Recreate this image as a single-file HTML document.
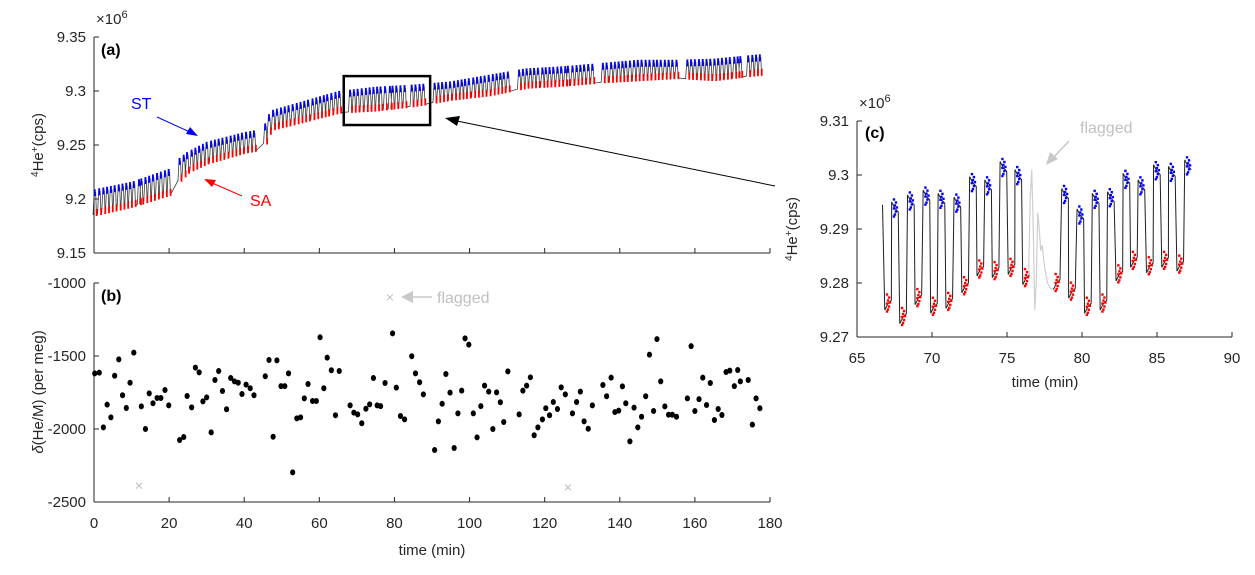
<!DOCTYPE html>
<html><head><meta charset="utf-8"><style>
html,body{margin:0;padding:0;background:#fff;}
svg{display:block;font-family:"Liberation Sans",Arial,sans-serif;}
.tk{font-size:15px;fill:#262626;}
</style></head><body>
<svg id="fig" width="1255" height="575" viewBox="0 0 1255 575" xmlns="http://www.w3.org/2000/svg">
<g id="pa"></g>
<g id="pb"></g>
<g id="pc"></g>
</svg>
<script>
// ---------- Panel (b) data: delta(He/M) per cycle ----------
const bTimes = [0.2,1.4,2.5,3.5,4.5,5.5,6.6,7.6,8.6,9.6,10.6,12.6,13.7,14.7,15.7,16.8,17.8,18.9,19.9,22.8,23.9,24.8,26.0,27.0,28.0,29.0,30.0,31.2,32.2,33.2,34.2,35.3,36.4,37.4,38.4,39.4,40.5,41.6,42.6,45.6,46.6,47.7,48.7,49.8,50.8,51.8,52.9,54.0,55.0,56.0,57.0,58.2,59.2,60.2,61.2,62.1,63.2,64.3,65.3,68.2,69.2,70.2,71.3,72.4,73.4,74.4,75.4,76.3,77.5,79.5,80.5,81.6,82.7,84.6,85.6,86.7,87.7,90.7,91.7,92.7,93.7,94.8,95.9,96.9,97.9,98.8,99.8,101.0,102.0,103.0,104.0,105.1,106.2,107.2,108.2,109.1,110.2,113.2,114.2,115.2,116.2,117.2,118.2,119.4,120.3,121.3,122.3,123.4,124.4,125.5,127.4,128.5,129.5,130.5,131.6,132.7,135.5,136.5,137.7,138.7,139.7,140.7,141.6,142.7,143.8,144.8,145.8,146.9,147.9,149.0,149.9,150.9,152.0,153.0,154.0,155.1,158.0,159.0,160.0,161.1,162.1,163.1,164.1,165.2,166.2,167.2,168.3,169.3,170.5,171.4,172.1,174.2,175.3,176.3,177.3];
const bValues = [-1619,-1614,-1989,-1833,-1920,-1635,-1523,-1769,-1856,-1683,-1477,-1845,-2000,-1756,-1824,-1788,-1788,-1733,-1838,-2075,-2055,-1774,-1852,-1580,-1612,-1811,-1783,-2023,-1664,-1603,-1740,-1865,-1651,-1674,-1683,-1760,-1696,-1721,-1769,-1639,-1527,-2053,-1530,-1706,-1706,-1619,-2297,-1927,-1920,-1790,-1692,-1808,-1808,-1372,-1721,-1511,-1598,-1906,-1603,-1838,-1888,-1900,-1961,-1861,-1831,-1651,-1838,-1843,-1685,-1345,-1717,-1911,-1934,-1502,-1619,-1680,-1763,-2144,-1948,-1827,-1623,-1751,-2130,-1893,-1737,-1379,-1422,-1893,-2057,-1843,-1703,-1744,-2000,-1749,-1817,-1952,-1605,-1900,-1737,-1703,-1646,-2043,-1989,-1934,-1858,-1906,-1815,-1863,-1715,-1763,-1893,-1815,-1744,-1948,-1998,-1838,-1699,-1776,-1648,-1884,-1874,-1708,-1824,-2085,-1854,-1989,-1916,-1776,-1491,-1877,-1384,-1674,-1845,-1902,-1902,-1916,-1790,-1432,-1877,-1795,-1648,-1836,-1685,-1938,-1863,-1904,-1610,-1600,-1706,-1596,-1674,-1664,-1970,-1790,-1858];
const flagTimes = [12.0,78.8,126.2];
const flagValues = [-2388,-1098,-2400];
const bXTicks = [0,20,40,60,80,100,120,140,160,180];
const bYTicks = [-2500,-2000,-1500,-1000];

// ---------- Panel (a) data: ST / SA levels (x1e6 cps) ----------
const aAnchorTimes = [0,10,20,22,25,30,40,45,47,55,65,75,85,95,105,115,125,135,145,155,165,177];
const aST = [9.208,9.215,9.227,9.235,9.243,9.252,9.261,9.264,9.281,9.289,9.299,9.303,9.305,9.308,9.314,9.320,9.322,9.325,9.328,9.328,9.329,9.333];
const aSA = [9.185,9.193,9.204,9.214,9.225,9.233,9.243,9.246,9.264,9.271,9.280,9.282,9.286,9.292,9.296,9.303,9.305,9.308,9.310,9.312,9.310,9.315];
const aYTicks = [9.15,9.2,9.25,9.3,9.35];

// ---------- Panel (c) data ----------
const cSTTimes = [67.53,68.59,69.63,70.63,71.69,72.73,73.74,74.76,75.75,78.87,79.89,80.91,81.92,82.96,83.96,84.99,85.99,87.07];
const cSTValues = [9.2938,9.2951,9.2960,9.2954,9.2947,9.2985,9.2979,9.3013,9.2998,9.2963,9.2925,9.2954,9.2957,9.2991,9.2979,9.3007,9.3004,9.3016];
const cSATimes = [67.07,68.07,69.09,70.13,71.15,72.21,73.22,74.24,75.30,76.27,78.31,79.33,80.39,81.43,82.49,83.46,84.52,85.54,86.55];
const cSAValues = [9.2762,9.2737,9.2772,9.2756,9.2765,9.2794,9.2825,9.2822,9.2828,9.2809,9.2800,9.2784,9.2756,9.2762,9.2816,9.2841,9.2831,9.2841,9.2834];
const cFlagTimes = [76.45,76.55,76.65,76.75,76.85,76.95,77.05,77.15,77.25,77.35,77.5,77.7,77.9];
const cFlagValues = [9.2830,9.2960,9.3010,9.2900,9.2750,9.2800,9.2930,9.2900,9.2860,9.2870,9.2830,9.2800,9.2790];
const cXTicks = [65,70,75,80,85,90];
const cYTicks = [9.27,9.28,9.29,9.3,9.31];

const NS = 'http://www.w3.org/2000/svg';
function mk(parent, tag, attrs, text){
  const e = document.createElementNS(NS, tag);
  for (const k in attrs) e.setAttribute(k, attrs[k]);
  if (text !== undefined) e.textContent = text;
  parent.appendChild(e);
  return e;
}
function lin(d0,d1,r0,r1){ return v => r0 + (v-d0)/(d1-d0)*(r1-r0); }
function interp(xs, ys, x){
  if (x <= xs[0]) return ys[0];
  for (let i=1;i<xs.length;i++){ if (x <= xs[i]) { const f=(x-xs[i-1])/(xs[i]-xs[i-1]); return ys[i-1]+f*(ys[i]-ys[i-1]); } }
  return ys[ys.length-1];
}

const xA = lin(0,180,94,770);
const yA = lin(9.15,9.35,253,37);
const yB = lin(-2500,-1000,502,283);
const xC = lin(65,90,857,1232);
const yC = lin(9.27,9.31,337,121);

// ===== Panel A =====
const pa = document.getElementById('pa');
let e;
e = mk(pa,'line',{x1:94,y1:37,x2:94,y2:253,stroke:'#262626','stroke-width':1});
 
e = mk(pa,'line',{x1:94,y1:253,x2:770,y2:253,stroke:'#262626','stroke-width':1});
 
bXTicks.forEach(t=>{
  e = mk(pa,'line',{x1:xA(t),y1:253,x2:xA(t),y2:248,stroke:'#262626'});
   
});
aYTicks.forEach(v=>{
  e = mk(pa,'line',{x1:94,y1:yA(v),x2:99,y2:yA(v),stroke:'#262626'});
   
  e = mk(pa,'text',{x:86,y:yA(v)+5,'text-anchor':'end',class:'tk'},String(v));
   
});
e = mk(pa,'text',{x:96,y:24,class:'tk'});
e.innerHTML = '×10<tspan dy="-6" font-size="11">6</tspan>';
 
e = mk(pa,'text',{x:101,y:55,'font-size':'16','font-weight':'bold',fill:'#000'},'(a)');
 
e = mk(pa,'text',{transform:'translate(43,145) rotate(-90)','text-anchor':'middle',class:'tk'});
e.innerHTML = '<tspan font-size="10" baseline-shift="super">4</tspan>He<tspan font-size="10" baseline-shift="super">+</tspan>(cps)';
 

const aCyc = bTimes.concat(flagTimes).sort((p,q)=>p-q);
let pts = [];
aCyc.forEach(t=>{
  const st = interp(aAnchorTimes,aST,t), sa = interp(aAnchorTimes,aSA,t);
  pts.push([xA(t-0.45),yA(sa)],[xA(t-0.15),yA(st)],[xA(t+0.25),yA(st-0.002)],[xA(t+0.45),yA(sa)]);
});
e = mk(pa,'polyline',{points:pts.map(p=>p.join(',')).join(' '),fill:'none',stroke:'#3a3a3a','stroke-width':0.8});
 
aCyc.forEach(t=>{
  const st = interp(aAnchorTimes,aST,t), sa = interp(aAnchorTimes,aSA,t);
  e = mk(pa,'line',{x1:xA(t),y1:yA(st)-1,x2:xA(t),y2:yA(st)+6,stroke:'#0000ff','stroke-width':1.8});
   
  e = mk(pa,'line',{x1:xA(t+0.5),y1:yA(sa)-6,x2:xA(t+0.5),y2:yA(sa)+1,stroke:'#ff0000','stroke-width':1.8});
   
});
e = mk(pa,'rect',{x:xA(66.5),y:yA(9.3138),width:xA(89.5)-xA(66.5),height:yA(9.2685)-yA(9.3138),fill:'none',stroke:'#000','stroke-width':2.5});
 
e = mk(pa,'text',{x:131,y:109,fill:'#0000ff','font-size':'16'},'ST');
 
e = mk(pa,'line',{x1:157,y1:117,x2:192,y2:133,stroke:'#0000ff','stroke-width':1});
 
mk(pa,'polygon',{points:'198,136 186,134 190,127',fill:'#0000ff'});
e = mk(pa,'text',{x:250,y:206,fill:'#ff0000','font-size':'16'},'SA');
 
e = mk(pa,'line',{x1:242,y1:196,x2:210,y2:182,stroke:'#ff0000','stroke-width':1});
 
mk(pa,'polygon',{points:'204,179 216,180 212,187',fill:'#ff0000'});
e = mk(pa,'line',{x1:775,y1:186,x2:452,y2:120,stroke:'#000','stroke-width':1});
 
mk(pa,'polygon',{points:'445,118 460,116 457,126',fill:'#000'});

// ===== Panel B =====
const pb = document.getElementById('pb');
e = mk(pb,'line',{x1:94,y1:283,x2:94,y2:502,stroke:'#262626'});
 
e = mk(pb,'line',{x1:94,y1:502,x2:770,y2:502,stroke:'#262626'});
 
bXTicks.forEach(t=>{
  e = mk(pb,'line',{x1:xA(t),y1:502,x2:xA(t),y2:497,stroke:'#262626'});
   
  e = mk(pb,'text',{x:xA(t),y:528,'text-anchor':'middle',class:'tk'},String(t));
   
});
bYTicks.forEach(v=>{
  e = mk(pb,'line',{x1:94,y1:yB(v),x2:99,y2:yB(v),stroke:'#262626'});
   
  e = mk(pb,'text',{x:86,y:yB(v)+5,'text-anchor':'end',class:'tk'},String(v));
   
});
e = mk(pb,'text',{x:432,y:555,'text-anchor':'middle',class:'tk','font-size':'16'},'time (min)');
 
e = mk(pb,'text',{transform:'translate(43,392) rotate(-90)','text-anchor':'middle',class:'tk'});
e.innerHTML = '<tspan font-style="italic">δ</tspan>(He/M) (per meg)';
 
e = mk(pb,'text',{x:101,y:301,'font-size':'16','font-weight':'bold',fill:'#000'},'(b)');
 
bTimes.forEach((t,i)=>{
  e = mk(pb,'ellipse',{cx:xA(t),cy:yB(bValues[i]),rx:2.6,ry:3,fill:'#000'});
   
});
flagTimes.forEach((t,i)=>{
  const x=xA(t), y=yB(flagValues[i]);
  e = mk(pb,'path',{d:`M${x-3},${y-3}L${x+3},${y+3}M${x-3},${y+3}L${x+3},${y-3}`,stroke:'#bdbdbd','stroke-width':1});
   
});
e = mk(pb,'line',{x1:432,y1:297,x2:408,y2:297,stroke:'#c8c8c8','stroke-width':1.5});
 
mk(pb,'polygon',{points:'401,297 413,291 413,303',fill:'#c8c8c8'});
e = mk(pb,'text',{x:437,y:303,fill:'#c0c0c0','font-size':'16'},'flagged');
 

// ===== Panel C =====
const pc = document.getElementById('pc');
e = mk(pc,'line',{x1:857,y1:121,x2:857,y2:337,stroke:'#262626'});
 
e = mk(pc,'line',{x1:857,y1:337,x2:1232,y2:337,stroke:'#262626'});
 
cXTicks.forEach(t=>{
  e = mk(pc,'line',{x1:xC(t),y1:337,x2:xC(t),y2:332,stroke:'#262626'});
   
  e = mk(pc,'text',{x:xC(t),y:363,'text-anchor':'middle',class:'tk'},String(t));
   
});
cYTicks.forEach(v=>{
  e = mk(pc,'line',{x1:857,y1:yC(v),x2:862,y2:yC(v),stroke:'#262626'});
   
  e = mk(pc,'text',{x:849,y:yC(v)+5,'text-anchor':'end',class:'tk'},String(v));
   
});
e = mk(pc,'text',{x:859,y:108,class:'tk'});
e.innerHTML = '×10<tspan dy="-6" font-size="11">6</tspan>';
 
e = mk(pc,'text',{x:865,y:138,'font-size':'16','font-weight':'bold',fill:'#000'},'(c)');
 
e = mk(pc,'text',{x:1045,y:387,'text-anchor':'middle',class:'tk','font-size':'16'},'time (min)');
 
e = mk(pc,'text',{transform:'translate(797,229) rotate(-90)','text-anchor':'middle',class:'tk'});
e.innerHTML = '<tspan font-size="10" baseline-shift="super">4</tspan>He<tspan font-size="10" baseline-shift="super">+</tspan>(cps)';
 

let ev = [];
cSTTimes.forEach((t,i)=>ev.push([t,cSTValues[i],'st']));
cSATimes.forEach((t,i)=>ev.push([t,cSAValues[i],'sa']));
ev.sort((p,q)=>p[0]-q[0]);
let seg1=[[xC(66.7),yC(9.2945)]], seg2=[];
ev.forEach(p=>{
  const [t,v,k]=p;
  const arr = t<77 ? seg1 : seg2;
  const dv = k==='st' ? -0.0012 : 0.0012;
  arr.push([xC(t-0.22),yC(v-dv)],[xC(t),yC(v)],[xC(t+0.22),yC(v+dv*0.5)]);
});
let gray = [seg1[seg1.length-1]];
cFlagTimes.forEach((t,i)=>gray.push([xC(t),yC(cFlagValues[i])]));
gray.push(seg2[0]);
e = mk(pc,'polyline',{points:gray.map(p=>p.join(',')).join(' '),fill:'none',stroke:'#cfcfcf','stroke-width':1.2});
 
[seg1,seg2].forEach(s=>{
  e = mk(pc,'polyline',{points:s.map(p=>p.join(',')).join(' '),fill:'none',stroke:'#202020','stroke-width':1});
   
});
const off = [[-1,-9],[1,-6],[0,-3],[-1,0],[1,3],[0,6],[-1,8],[2,-1]];
cSTTimes.forEach((t,i)=>{
  const g = mk(pc,'g',{});
   
  off.forEach(o=>mk(g,'rect',{x:xC(t)+o[0]-1.2,y:yC(cSTValues[i])+o[1]-1.2,width:2.4,height:2.4,fill:'#0000ff'}));
});
cSATimes.forEach((t,i)=>{
  const g = mk(pc,'g',{});
   
  off.forEach(o=>mk(g,'rect',{x:xC(t)+o[0]-1.2,y:yC(cSAValues[i])+o[1]-1.2,width:2.4,height:2.4,fill:'#ff0000'}));
});
e = mk(pc,'text',{x:1080,y:133,fill:'#c0c0c0','font-size':'16'},'flagged');
 
e = mk(pc,'line',{x1:1069,y1:141,x2:1052,y2:159,stroke:'#c8c8c8','stroke-width':1.5});
 
mk(pc,'polygon',{points:'1046,165 1050,152 1058,159',fill:'#c8c8c8'});
</script>
</body></html>
